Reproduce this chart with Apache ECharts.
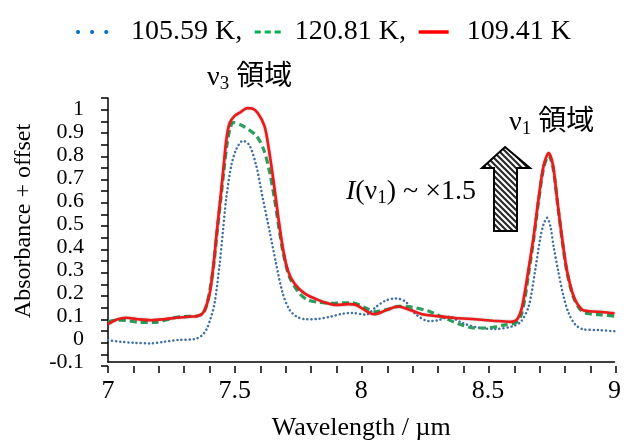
<!DOCTYPE html>
<html>
<head>
<meta charset="utf-8">
<script src="https://cdn.jsdelivr.net/npm/echarts@6/dist/echarts.min.js"></script>
<style>
html,body{margin:0;padding:0;background:#fff}
#wrap{position:relative;width:624px;height:446px}
#c,#t{position:absolute;left:0;top:0;width:624px;height:446px}
#t{pointer-events:none}
</style>
</head>
<body>
<div id="wrap"><div id="c"></div><div id="t"></div></div>
<script>
// ---- data ----
const seriesNames = ['105.59 K,', '120.81 K,', '109.41 K'];
const xLabelStep = 0.5, xTickStep = 0.1;   // labels 7, 7.5, 8, 8.5, 9; ticks every 0.1
const yLabelStep = 0.1, yTickStep = 0.05;  // labels -0.1 ... 1; ticks every 0.05

const blue10559 = [
  [7.00,-0.005],[7.05,-0.012],[7.10,-0.016],[7.17,-0.019],[7.22,-0.012],[7.28,-0.004],
  [7.343,0.0],[7.37,0.015],[7.389,0.042],[7.405,0.09],[7.421,0.156],[7.441,0.327],
  [7.454,0.47],[7.467,0.614],[7.487,0.757],[7.507,0.828],[7.533,0.864],[7.559,0.843],
  [7.585,0.757],[7.611,0.614],[7.638,0.47],[7.664,0.327],[7.690,0.199],[7.717,0.127],
  [7.745,0.098],[7.78,0.086],[7.83,0.088],[7.88,0.098],[7.926,0.11],[7.966,0.114],
  [8.018,0.106],[8.058,0.14],[8.097,0.168],[8.137,0.177],[8.176,0.162],[8.215,0.108],
  [8.268,0.078],[8.307,0.083],[8.346,0.097],[8.399,0.07],[8.465,0.049],[8.53,0.044],
  [8.596,0.055],[8.63,0.075],[8.661,0.142],[8.687,0.30],[8.707,0.44],[8.72,0.50],
  [8.734,0.528],[8.747,0.49],[8.76,0.40],[8.777,0.30],[8.799,0.185],[8.819,0.113],
  [8.845,0.063],[8.878,0.042],[8.937,0.039],[9.00,0.034]
];
const green12081 = [
  [7.00,0.075],[7.035,0.082],[7.07,0.081],[7.12,0.073],[7.19,0.073],[7.25,0.09],
  [7.30,0.098],[7.35,0.100],[7.375,0.112],[7.39,0.15],[7.405,0.23],[7.418,0.33],
  [7.431,0.47],[7.445,0.61],[7.458,0.74],[7.47,0.85],[7.483,0.92],[7.495,0.943],
  [7.533,0.928],[7.585,0.886],[7.614,0.828],[7.638,0.728],[7.657,0.614],[7.677,0.471],
  [7.693,0.37],[7.717,0.27],[7.756,0.199],[7.789,0.17],[7.83,0.16],[7.88,0.156],
  [7.93,0.158],[7.965,0.158],[8.02,0.134],[8.06,0.12],[8.10,0.128],[8.15,0.142],
  [8.20,0.139],[8.27,0.12],[8.31,0.10],[8.36,0.077],[8.40,0.06],[8.44,0.049],
  [8.49,0.048],[8.57,0.062],[8.61,0.07],[8.63,0.10],[8.645,0.17],[8.66,0.28],
  [8.68,0.43],[8.70,0.60],[8.72,0.745],[8.74,0.80],[8.757,0.75],[8.773,0.61],
  [8.793,0.435],[8.812,0.295],[8.839,0.18],[8.87,0.122],[8.90,0.11],[8.95,0.105],
  [9.00,0.10]
];
const red10941 = [
  [7.00,0.065],[7.035,0.085],[7.07,0.093],[7.12,0.086],[7.17,0.082],[7.22,0.086],
  [7.28,0.094],[7.33,0.098],[7.349,0.099],[7.37,0.108],[7.382,0.127],[7.394,0.165],
  [7.404,0.213],[7.417,0.327],[7.430,0.47],[7.444,0.614],[7.457,0.757],[7.467,0.865],
  [7.48,0.94],[7.50,0.972],[7.525,0.99],[7.55,1.006],[7.57,1.004],[7.592,0.984],
  [7.618,0.928],[7.635,0.828],[7.654,0.685],[7.671,0.542],[7.690,0.399],[7.710,0.299],
  [7.736,0.242],[7.776,0.199],[7.82,0.175],[7.86,0.158],[7.90,0.148],[7.95,0.152],
  [7.98,0.148],[8.02,0.122],[8.05,0.108],[8.10,0.126],[8.145,0.142],[8.19,0.128],
  [8.24,0.108],[8.30,0.100],[8.37,0.092],[8.45,0.086],[8.52,0.080],[8.59,0.075],
  [8.615,0.085],[8.635,0.14],[8.66,0.30],[8.68,0.44],[8.70,0.61],[8.72,0.755],
  [8.74,0.81],[8.757,0.757],[8.773,0.614],[8.793,0.44],[8.812,0.30],[8.839,0.185],
  [8.87,0.13],[8.90,0.121],[8.95,0.118],[9.00,0.112]
];

// ---- rendering ----
const SERIF = "'Liberation Serif','Times New Roman',serif";
const CJK = "'Liberation Serif','Noto Sans CJK JP',serif";
const X_MIN = 7, X_MAX = 9, Y_MIN = -0.1, Y_MAX = 1.05;
const GRID = {left: 108, right: 8, top: 98, bottom: 80};

function hatchCanvas() {
  const s = 6;
  const c = document.createElement('canvas');
  c.width = s; c.height = s;
  const g = c.getContext('2d');
  g.fillStyle = '#ffffff'; g.fillRect(0, 0, s, s);
  g.strokeStyle = '#2a2a2a'; g.lineWidth = 2.2;
  g.beginPath();
  [-s, 0, s].forEach(k => { g.moveTo(k - 1, -1); g.lineTo(k + s + 1, s + 1); });
  g.stroke();
  return c;
}

const subRich = {
  n: {fontFamily: SERIF, fontSize: 28, color: '#000', verticalAlign: 'bottom'},
  s: {fontFamily: SERIF, fontSize: 19, color: '#000', verticalAlign: 'bottom', padding: [0, 0, -2, 0]},
  c: {fontFamily: CJK, fontSize: 28, color: '#000', verticalAlign: 'bottom'},
  i: {fontFamily: SERIF, fontSize: 28, fontStyle: 'italic', color: '#000', verticalAlign: 'bottom'},
  t: {fontFamily: SERIF, fontSize: 28, color: '#000', verticalAlign: 'bottom'}
};
const hiddenSym = {opacity: 0, color: 'rgba(0,0,0,0)', borderWidth: 0};

// main chart: curves, labels, legend, annotations
const chart = echarts.init(document.getElementById('c'));
chart.setOption({
  animation: false,
  backgroundColor: '#fff',
  legend: {
    top: 13, left: 71,
    itemWidth: 30, itemHeight: 12, itemGap: 11,
    itemStyle: hiddenSym,
    textStyle: {fontFamily: SERIF, fontSize: 28, color: '#000'},
    data: [
      {name: seriesNames[0], itemStyle: hiddenSym, textStyle: {padding: [0, 0, 0, 18]},
       lineStyle: {color: '#0070c0', width: 4, type: [0.1, 14], cap: 'round'}},
      {name: seriesNames[1], itemStyle: hiddenSym, textStyle: {padding: [0, 6, 0, 5]},
       lineStyle: {color: '#00b050', width: 3, type: [6, 4]}},
      {name: seriesNames[2], itemStyle: hiddenSym, textStyle: {padding: [0, 0, 0, 13]},
       lineStyle: {color: '#ff0000', width: 3.5}}
    ]
  },
  grid: GRID,
  xAxis: {
    type: 'value', min: X_MIN, max: X_MAX, interval: xLabelStep,
    name: 'Wavelength / µm', nameLocation: 'middle', nameGap: 53,
    nameTextStyle: {fontFamily: SERIF, fontSize: 26, color: '#000'},
    axisLine: {show: true, onZero: false, lineStyle: {color: '#000', width: 1.5}},
    axisTick: {show: false},
    splitLine: {show: false},
    axisLabel: {margin: 16, fontFamily: SERIF, fontSize: 26, color: '#000'}
  },
  yAxis: {
    type: 'value', min: Y_MIN, max: Y_MAX, interval: yLabelStep,
    axisLine: {show: true, onZero: false, lineStyle: {color: '#000', width: 1.5}},
    axisTick: {show: false},
    splitLine: {show: false},
    axisLabel: {margin: 24, fontFamily: SERIF, fontSize: 22, color: '#000', showMaxLabel: false}
  },
  series: [
    {
      type: 'line', name: seriesNames[0], data: blue10559, symbol: 'none', showSymbol: false,
      smooth: 0.3, z: 2,
      itemStyle: {color: '#3f6fa6'},
      lineStyle: {color: '#3f6fa6', width: 2.5, type: [0.1, 4], cap: 'round'}
    },
    {
      type: 'line', name: seriesNames[1], data: green12081, symbol: 'none', showSymbol: false,
      smooth: 0.3, z: 3,
      itemStyle: {color: '#2e9e5c'},
      lineStyle: {color: '#2e9e5c', width: 3.2, type: [7, 4]}
    },
    {
      type: 'line', name: seriesNames[2], data: red10941, symbol: 'none', showSymbol: false,
      smooth: 0.3, z: 4,
      itemStyle: {color: '#ee1a1a'},
      lineStyle: {color: '#ee1a1a', width: 2.6, shadowColor: 'rgba(0,0,0,0.35)', shadowBlur: 2}
    }
  ],
  graphic: [
    {
      type: 'text', x: 24, y: 221, rotation: Math.PI / 2,
      style: {text: 'Absorbance + offset', fontFamily: SERIF, fontSize: 24, fill: '#000', align: 'center', verticalAlign: 'middle'}
    },
    {
      type: 'text', x: 207, y: 92,
      style: {text: '{n|ν}{s|3}{c| 領域}', rich: subRich, align: 'left', verticalAlign: 'bottom'}
    },
    {
      type: 'text', x: 509, y: 137,
      style: {text: '{n|ν}{s|1}{c| 領域}', rich: subRich, align: 'left', verticalAlign: 'bottom'}
    },
    {
      type: 'text', x: 476, y: 206,
      style: {text: '{i|I}{t|(ν}{s|1}{t|) ~ ×1.5}', rich: subRich, align: 'right', verticalAlign: 'bottom'}
    },
    {
      type: 'polygon', z: 10,
      shape: {points: [[505, 147], [530, 168], [517, 168], [517, 231], [494, 231], [494, 168], [482, 168]]},
      style: {fill: {image: hatchCanvas(), repeat: 'repeat'}, stroke: '#000', lineWidth: 2}
    }
  ]
});

// overlay chart with the same grid and axis ranges: draws only the tick marks
const tickChart = echarts.init(document.getElementById('t'));
tickChart.setOption({
  animation: false,
  grid: GRID,
  xAxis: {
    type: 'value', min: X_MIN, max: X_MAX, interval: xTickStep,
    axisLine: {show: false, onZero: false},
    axisTick: {show: true, length: 7, lineStyle: {color: '#000', width: 1.5}},
    axisLabel: {show: false},
    splitLine: {show: false}
  },
  yAxis: {
    type: 'value', min: Y_MIN, max: Y_MAX, interval: yTickStep,
    axisLine: {show: false, onZero: false},
    axisTick: {show: true, length: 7, lineStyle: {color: '#000', width: 1.5}},
    axisLabel: {show: false},
    splitLine: {show: false}
  },
  series: [{type: 'line', data: [], symbol: 'none', silent: true}]
});
</script>
</body>
</html>
